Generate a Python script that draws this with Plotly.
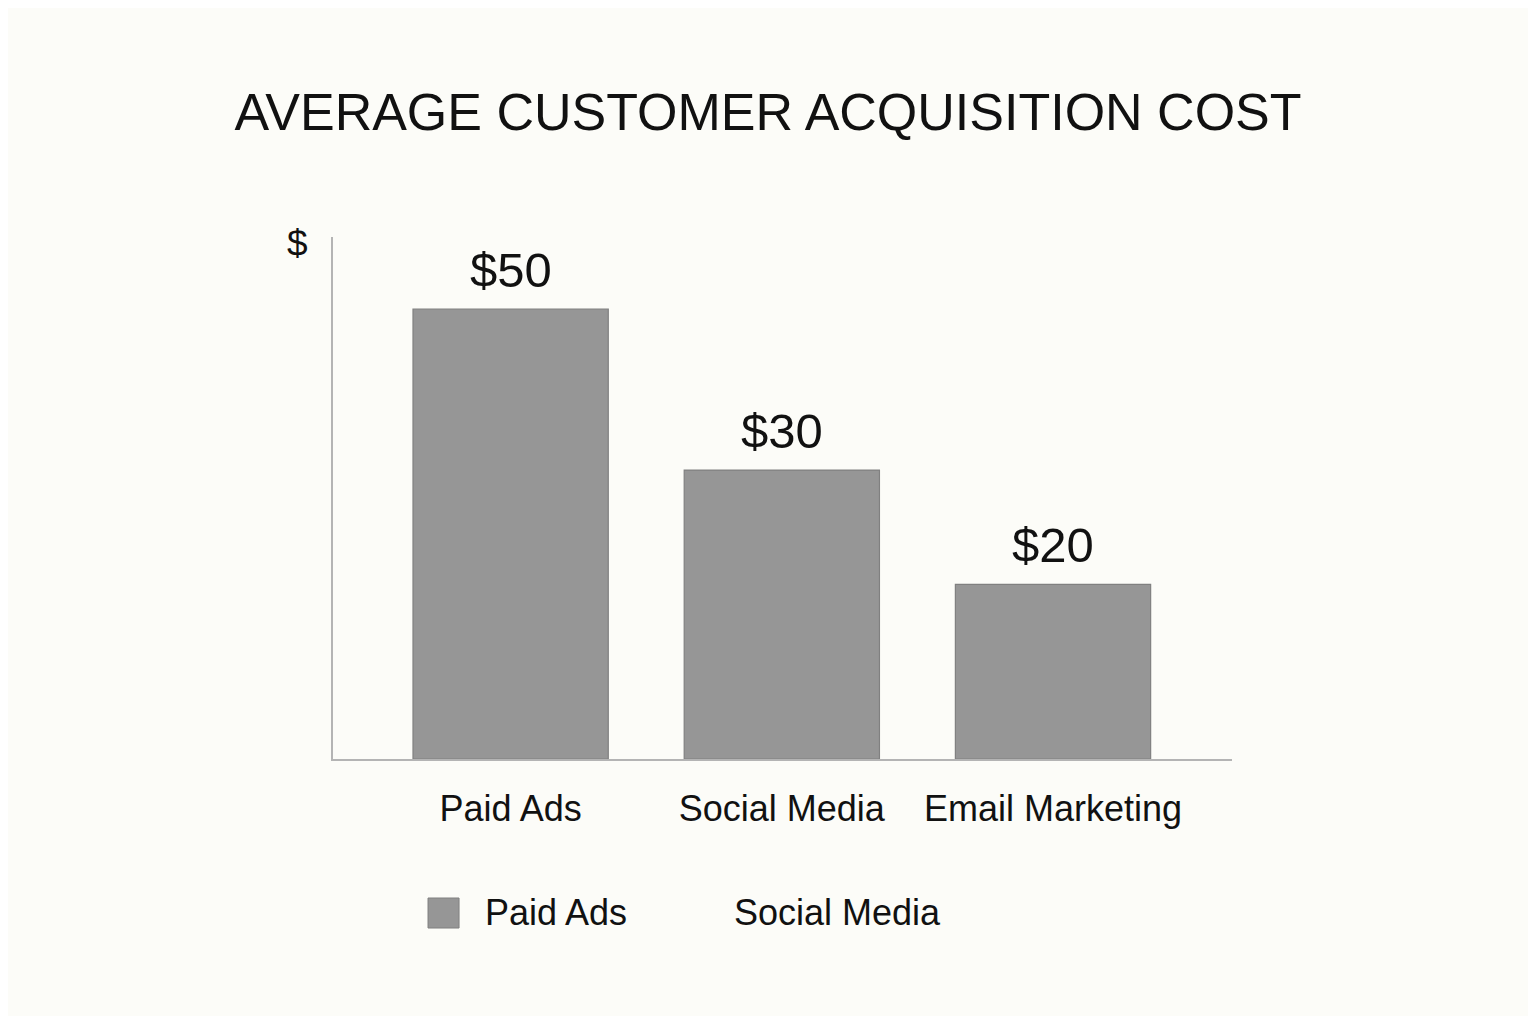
import plotly.graph_objects as go

# data
categories = ["Paid Ads", "Social Media", "Email Marketing"]
costs = [50, 32.1, 19.4]          # bar heights as drawn
cost_labels = ["$50", "$30", "$20"]
legend_names = ["Paid Ads", "Social Media"]

FONT = "Liberation Sans"
BAR = "#969696"
BG = "#fcfcf8"
TXT = "#111111"

fig = go.Figure()
fig.add_bar(x=categories, y=costs, width=0.72, name=legend_names[0],
            marker=dict(color=BAR, line=dict(color="#808080", width=1.2)),
            showlegend=False, hoverinfo="x+y")

# value labels above the bars
for cat, val, lab in zip(categories, costs, cost_labels):
    fig.add_annotation(x=cat, y=val, text=lab, showarrow=False,
                       yanchor="bottom", yshift=10,
                       font=dict(family=FONT, size=49, color=TXT))

# "$" axis label
fig.add_annotation(xref="paper", yref="paper", x=-0.04, y=1.0, text="$",
                   showarrow=False, xanchor="center", yanchor="top", yshift=16,
                   font=dict(family=FONT, size=37, color=TXT))

# hand-drawn legend (plotly caps legend symbol size)
fig.add_shape(type="rect", xref="paper", yref="paper",
              x0=0.1057, x1=0.1402, y0=-0.3238, y1=-0.2663,
              fillcolor=BAR, line=dict(color="#808080", width=1))
fig.add_annotation(xref="paper", yref="paper", x=0.1669, y=-0.295,
                   text=legend_names[0], showarrow=False, xanchor="left",
                   yanchor="middle", font=dict(family=FONT, size=36, color=TXT))
fig.add_annotation(xref="paper", yref="paper", x=0.4438, y=-0.295,
                   text=legend_names[1], showarrow=False, xanchor="left",
                   yanchor="middle", font=dict(family=FONT, size=36, color=TXT))

# the page adds an 8px body margin, so the figure is 16px smaller
fig.update_layout(
    width=1520, height=1008,
    margin=dict(l=325, r=296, t=229, b=257),
    paper_bgcolor=BG, plot_bgcolor=BG,
    title=dict(text="AVERAGE CUSTOMER ACQUISITION COST", x=0.5, xanchor="center",
               y=1 - 104 / 1008, yanchor="middle",
               font=dict(family=FONT, size=52, color=TXT)),
    showlegend=False,
)
fig.update_xaxes(range=[-0.655, 2.66], showline=True, linecolor="#b4b4b4", linewidth=2,
                 ticks="", showgrid=False, zeroline=False, ticklabelstandoff=17,
                 tickfont=dict(family=FONT, size=36, color=TXT))
fig.update_yaxes(range=[0, 58], showline=True, linecolor="#b4b4b4", linewidth=2,
                 ticks="", showticklabels=False, showgrid=False, zeroline=False)

fig.write_html("out.html")
